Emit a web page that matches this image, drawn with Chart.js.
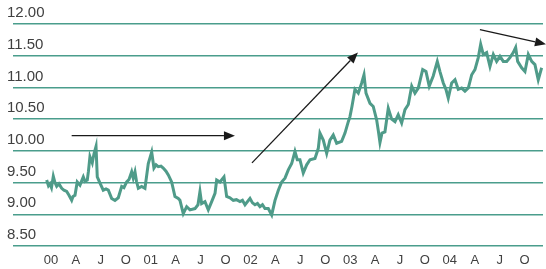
<!DOCTYPE html>
<html>
<head>
<meta charset="utf-8">
<script src="https://cdn.jsdelivr.net/npm/chart.js@4.4.1/dist/chart.umd.min.js"></script>
<style>
  html, body { margin: 0; padding: 0; background: #fff; }
  #wrap { width: 546px; height: 269px; }
</style>
</head>
<body>
<div id="wrap"><canvas id="rateChart" width="546" height="269"></canvas></div>
<script>
// Months counted from January 2000
const months = [
  -0.52, -0.30, -0.12, 0.06, 0.28, 0.48, 0.69, 0.96, 1.29, 1.56,
  1.89, 2.17, 2.49, 2.65, 2.89, 3.16, 3.49, 3.89, 4.09, 4.37,
  4.51, 4.69, 4.97, 5.17, 5.42, 5.57, 5.90, 6.29, 6.62, 6.90,
  7.30, 7.70, 8.10, 8.51, 8.78, 9.11, 9.39, 9.71, 9.90, 10.11,
  10.29, 10.51, 10.91, 11.31, 11.71, 12.12, 12.39, 12.64, 12.91, 13.24,
  13.51, 13.84, 14.12, 14.52, 14.92, 15.32, 15.52, 15.92, 16.33, 16.73,
  17.33, 17.69, 17.93, 18.13, 18.53, 18.93, 19.34, 19.74, 19.94, 20.34,
  20.82, 21.14, 21.54, 21.94, 22.32, 22.74, 23.04, 23.35, 23.95, 24.25,
  24.55, 24.85, 25.15, 25.45, 25.75, 26.15, 26.56, 26.96, 27.36, 27.76,
  28.16, 28.56, 28.97, 29.36, 29.64, 29.96, 30.36, 30.77, 31.17, 31.77,
  32.17, 32.37, 32.77, 33.18, 33.57, 33.97, 34.38, 34.98, 35.38, 35.78,
  35.98, 36.22, 36.58, 36.98, 37.39, 37.67, 37.91, 38.39, 38.78, 39.19,
  39.41, 39.59, 39.83, 40.19, 40.59, 41.00, 41.40, 41.79, 42.20, 42.60,
  43.00, 43.41, 43.80, 44.20, 44.73, 45.13, 45.52, 46.00, 46.49, 46.81,
  47.21, 47.53, 47.81, 48.22, 48.62, 49.01, 49.42, 49.82, 50.22, 50.63,
  51.02, 51.42, 51.71, 52.02, 52.43, 52.83, 53.23, 53.63, 54.03, 54.43,
  54.84, 55.23, 55.63, 55.92, 56.16, 56.64, 57.04, 57.44, 57.85, 58.24,
  58.64, 59.05
];

const rates = [
  9.54, 9.45, 9.48, 9.42, 9.60, 9.50, 9.44, 9.48, 9.41, 9.38,
  9.36, 9.30, 9.22, 9.28, 9.30, 9.51, 9.46, 9.59, 9.52, 9.54,
  9.68, 9.91, 9.81, 9.95, 10.07, 9.59, 9.49, 9.38, 9.40, 9.38,
  9.25, 9.22, 9.26, 9.44, 9.42, 9.51, 9.55, 9.67, 9.57, 9.67,
  9.52, 9.41, 9.44, 9.41, 9.80, 9.98, 9.73, 9.78, 9.75, 9.76,
  9.73, 9.68, 9.62, 9.51, 9.28, 9.25, 9.22, 9.01, 9.12, 9.07,
  9.09, 9.15, 9.36, 9.17, 9.20, 9.07, 9.20, 9.33, 9.54, 9.51,
  9.59, 9.28, 9.26, 9.22, 9.23, 9.20, 9.22, 9.15, 9.25, 9.18,
  9.15, 9.17, 9.12, 9.15, 9.09, 9.09, 8.99, 9.22, 9.38, 9.51,
  9.57, 9.70, 9.80, 9.99, 9.86, 9.86, 9.65, 9.78, 9.86, 9.88,
  10.04, 10.28, 10.17, 9.96, 10.17, 10.25, 10.12, 10.15, 10.28, 10.46,
  10.54, 10.70, 10.97, 10.91, 11.07, 11.20, 10.91, 10.75, 10.70, 10.49,
  10.30, 10.13, 10.28, 10.30, 10.67, 10.50, 10.46, 10.57, 10.44, 10.65,
  10.73, 11.02, 10.91, 10.99, 11.28, 11.25, 11.02, 11.18, 11.41, 11.25,
  11.07, 10.97, 10.83, 11.07, 11.12, 10.97, 10.99, 10.94, 10.99, 11.20,
  11.28, 11.47, 11.68, 11.52, 11.55, 11.33, 11.52, 11.41, 11.49, 11.41,
  11.41, 11.47, 11.55, 11.63, 11.41, 11.31, 11.25, 11.52, 11.41, 11.36,
  11.12, 11.31
];

// Quarter ticks on the x axis
const quarterMonths = [0, 3, 6, 9, 12, 15, 18, 21, 24, 27, 30, 33, 36, 39, 42, 45, 48, 51, 54, 57];
const quarterLabels = ['00', 'A', 'J', 'O', '01', 'A', 'J', 'O', '02', 'A', 'J', 'O', '03', 'A', 'J', 'O', '04', 'A', 'J', 'O'];

// y gridlines / labels
const yTicks = [8.5, 9, 9.5, 10, 10.5, 11, 11.5, 12];

// Trend arrows, [month, value] for start and tip
const arrowStarts = [[2.49, 10.24], [24.19, 9.81], [51.62, 11.91]];
const arrowEnds = [[22.14, 10.24], [36.94, 11.55], [59.57, 11.68]];

const gridColor = '#4a9d8c';
const lineColor = '#4f9b89';
const textColor = '#404040';
const fontFamily = '"Liberation Sans", Arial, Helvetica, sans-serif';

// Draw the black arrows on top of the line
const arrowPlugin = {
  id: 'arrows',
  afterDatasetsDraw(chart) {
    const ctx = chart.ctx;
    const xs = chart.scales.x;
    const ys = chart.scales.y;
    ctx.save();
    ctx.strokeStyle = '#1a1a1a';
    ctx.fillStyle = '#1a1a1a';
    ctx.lineWidth = 1.3;
    for (let i = 0; i < arrowStarts.length; i++) {
      const x1 = xs.getPixelForValue(arrowStarts[i][0]);
      const y1 = ys.getPixelForValue(arrowStarts[i][1]);
      const x2 = xs.getPixelForValue(arrowEnds[i][0]);
      const y2 = ys.getPixelForValue(arrowEnds[i][1]);
      const ang = Math.atan2(y2 - y1, x2 - x1);
      const headLen = 11;
      const headHalf = 4.5;
      const bx = x2 - headLen * Math.cos(ang);
      const by = y2 - headLen * Math.sin(ang);
      ctx.beginPath();
      ctx.moveTo(x1, y1);
      ctx.lineTo(bx, by);
      ctx.stroke();
      ctx.beginPath();
      ctx.moveTo(x2, y2);
      ctx.lineTo(bx - headHalf * Math.sin(ang), by + headHalf * Math.cos(ang));
      ctx.lineTo(bx + headHalf * Math.sin(ang), by - headHalf * Math.cos(ang));
      ctx.closePath();
      ctx.fill();
    }
    ctx.restore();
  }
};

// y labels sit above their gridline, left aligned at the canvas edge
const yLabelPlugin = {
  id: 'yLabels',
  afterDraw(chart) {
    const ctx = chart.ctx;
    const ys = chart.scales.y;
    ctx.save();
    ctx.fillStyle = textColor;
    ctx.font = '15px ' + fontFamily;
    ctx.textAlign = 'left';
    ctx.textBaseline = 'middle';
    yTicks.forEach(v => {
      ctx.fillText(v.toFixed(2), 7, ys.getPixelForValue(v) - 11);
    });
    ctx.restore();
  }
};

const ctx = document.getElementById('rateChart').getContext('2d');

const rateChart = new Chart(ctx, {
  type: 'line',
  data: {
    datasets: [{
      data: months.map((m, i) => ({ x: m, y: rates[i] })),
      borderColor: lineColor,
      borderWidth: 3,
      pointRadius: 0,
      tension: 0,
      fill: false
    }]
  },
  options: {
    responsive: false,
    animation: false,
    devicePixelRatio: 1,
    plugins: {
      legend: { display: false },
      tooltip: { enabled: false }
    },
    layout: {
      padding: { left: 13, right: 3, top: 24, bottom: 0 }
    },
    scales: {
      x: {
        type: 'linear',
        min: -4.57,
        max: 59.21,
        grid: { display: false, drawTicks: false },
        border: { display: false },
        afterBuildTicks: (scale) => {
          scale.ticks = quarterMonths.map(v => ({ value: v }));
        },
        afterFit: (scale) => { scale.height = 23; },
        ticks: {
          autoSkip: false,
          maxRotation: 0,
          padding: 7,
          color: textColor,
          font: { family: fontFamily, size: 13 },
          callback: (value) => {
            const idx = quarterMonths.indexOf(value);
            return idx >= 0 ? quarterLabels[idx] : '';
          }
        }
      },
      y: {
        min: 8.5,
        max: 12,
        afterBuildTicks: (scale) => {
          scale.ticks = yTicks.map(v => ({ value: v }));
        },
        afterFit: (scale) => { scale.width = 0; },
        grid: {
          color: gridColor,
          lineWidth: 1.5,
          drawTicks: false
        },
        border: { display: false },
        ticks: { display: false }
      }
    }
  },
  plugins: [arrowPlugin, yLabelPlugin]
});
</script>
</body>
</html>
